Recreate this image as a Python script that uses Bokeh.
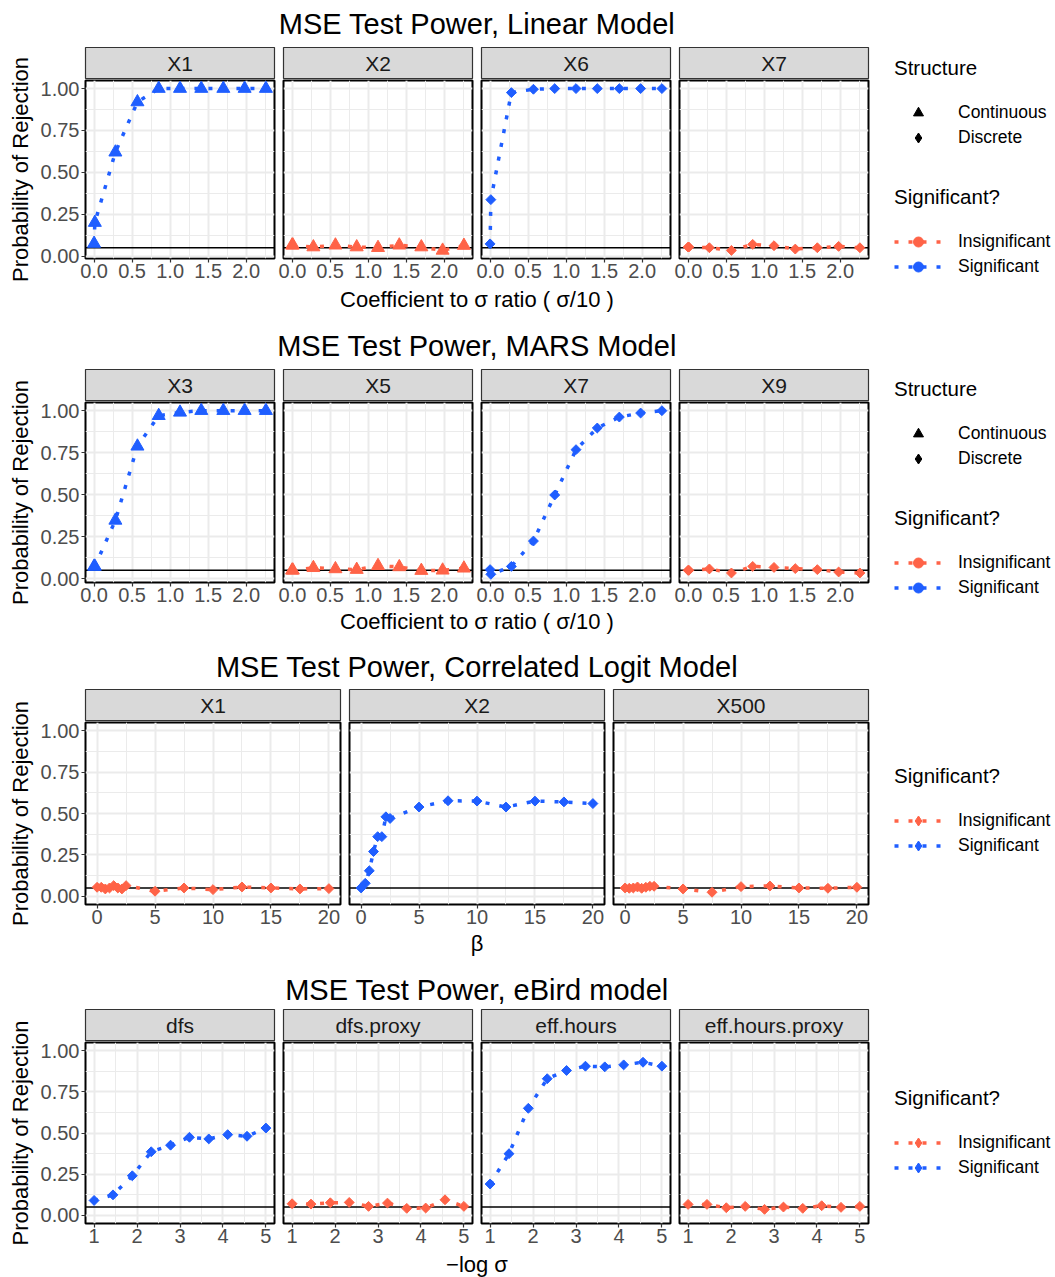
import math
from bokeh.plotting import figure
from bokeh.layouts import row, column
from bokeh.models import Range1d, FixedTicker, Span, Legend, LegendItem
from bokeh.core.properties import value
from bokeh.embed import file_html
from bokeh.resources import INLINE

FONT = "Liberation Sans"
RED = "#FF6347"
BLUE = "#1F5EFF"
GRID = "#EBEBEB"
TICK_COL = "#4D4D4D"

# ---------------- data ----------------
alpha_level = 0.05

linear_vars = ["X1", "X2", "X6", "X7"]
linear_structure = ["Continuous", "Continuous", "Discrete", "Discrete"]
linear_significant = [True, False, True, False]
linear_x = [0.0, 0.01, 0.28, 0.57, 0.85, 1.13, 1.41, 1.70, 1.98, 2.26]
linear_X1 = [0.075, 0.20, 0.62, 0.92, 1.00, 1.00, 1.00, 1.00, 1.00, 1.00]
linear_X2 = [0.065, 0.065, 0.054, 0.065, 0.054, 0.050, 0.065, 0.054, 0.034, 0.063]
linear_X6 = [0.073, 0.337, 0.976, 0.996, 1.00, 1.00, 1.00, 1.00, 1.00, 1.00]
linear_X7 = [0.054, 0.054, 0.050, 0.034, 0.070, 0.062, 0.042, 0.050, 0.058, 0.050]

mars_vars = ["X3", "X5", "X7", "X9"]
mars_structure = ["Continuous", "Continuous", "Discrete", "Discrete"]
mars_significant = [True, False, True, False]
mars_x = [0.0, 0.01, 0.28, 0.57, 0.85, 1.13, 1.41, 1.70, 1.98, 2.26]
mars_X3 = [0.073, 0.073, 0.347, 0.788, 0.970, 0.990, 1.00, 1.00, 1.00, 1.00]
mars_X5 = [0.050, 0.050, 0.065, 0.058, 0.054, 0.077, 0.070, 0.048, 0.050, 0.062]
mars_X7 = [0.054, 0.026, 0.073, 0.224, 0.498, 0.768, 0.897, 0.962, 0.986, 1.00]
mars_X9 = [0.050, 0.050, 0.058, 0.034, 0.073, 0.067, 0.060, 0.054, 0.040, 0.034]

logit_vars = ["X1", "X2", "X500"]
logit_significant = [False, True, False]
logit_x = [0.0, 0.36, 0.71, 1.07, 1.43, 1.79, 2.14, 2.5, 5.0, 7.5, 10.0, 12.5, 15.0, 17.5, 20.0]
logit_X1 = [0.054, 0.054, 0.044, 0.050, 0.064, 0.050, 0.044, 0.064, 0.030, 0.050, 0.040, 0.056, 0.050, 0.044, 0.046]
logit_X2 = [0.050, 0.078, 0.154, 0.270, 0.360, 0.360, 0.480, 0.470, 0.539, 0.577, 0.575, 0.539, 0.575, 0.570, 0.560]
logit_X500 = [0.050, 0.048, 0.050, 0.056, 0.048, 0.054, 0.060, 0.060, 0.044, 0.024, 0.058, 0.062, 0.050, 0.048, 0.054]

ebird_vars = ["dfs", "dfs.proxy", "eff.hours", "eff.hours.proxy"]
ebird_significant = [True, False, True, False]
ebird_x = [1.0, 1.44, 1.89, 2.33, 2.78, 3.22, 3.67, 4.11, 4.56, 5.0]
ebird_dfs = [0.090, 0.124, 0.240, 0.386, 0.426, 0.474, 0.464, 0.490, 0.480, 0.530]
ebird_dfs_proxy = [0.070, 0.068, 0.076, 0.078, 0.054, 0.074, 0.042, 0.044, 0.094, 0.054]
ebird_eff_hours = [0.190, 0.374, 0.650, 0.830, 0.880, 0.906, 0.902, 0.914, 0.930, 0.906]
ebird_eff_hours_proxy = [0.066, 0.066, 0.046, 0.054, 0.036, 0.050, 0.042, 0.058, 0.048, 0.054]

y_ticks = [0.0, 0.25, 0.5, 0.75, 1.0]
y_tick_labels = ["0.00", "0.25", "0.50", "0.75", "1.00"]
y_minor = [0.125, 0.375, 0.625, 0.875]
sigma_ticks = [0.0, 0.5, 1.0, 1.5, 2.0]
sigma_tick_labels = ["0.0", "0.5", "1.0", "1.5", "2.0"]
sigma_minor = [0.25, 0.75, 1.25, 1.75, 2.25]
beta_ticks = [0, 5, 10, 15, 20]
beta_tick_labels = ["0", "5", "10", "15", "20"]
beta_minor = [2.5, 7.5, 12.5, 17.5]
logsig_ticks = [1, 2, 3, 4, 5]
logsig_tick_labels = ["1", "2", "3", "4", "5"]
logsig_minor = [1.5, 2.5, 3.5, 4.5]

sig_labels = ["Insignificant", "Significant"]
structure_labels = ["Continuous", "Discrete"]
y_title = "Probability of Rejection"

# ---------------- layout constants ----------------
YLAB_W = 34
LEFT = 85
GAP_L = 5
GAP_R = 4
TOP = 1
BOTTOM = 28
STRIP_H = 33
BLOCK_W = 872
LEG_W = 1055 - BLOCK_W
TITLE_CX = (LEFT + BLOCK_W - GAP_R) / 2.0


def expand(vals, frac=0.05):
    lo, hi = min(vals), max(vals)
    d = (hi - lo) * frac
    return (lo - d, hi + d)


def text_fig(w, h, cx, cy_from_top, txt, size, angle=0.0):
    p = figure(width=w, height=h, x_range=Range1d(0, w), y_range=Range1d(0, h),
               x_axis_location=None, y_axis_location=None, toolbar_location=None,
               output_backend="svg", min_border=0, outline_line_color=None)
    p.grid.visible = False
    p.text(x=[cx], y=[h - cy_from_top], text=[txt], angle=angle,
           text_font=value(FONT), text_font_size=size, text_align="center",
           text_baseline="middle", text_color="black")
    return p


def strip_fig(w, left, frame_w, h, label):
    p = figure(width=w, height=h, x_range=Range1d(0, 1), y_range=Range1d(0, 1),
               x_axis_location=None, y_axis_location=None, toolbar_location=None,
               output_backend="svg", min_border_left=left,
               min_border_right=w - left - frame_w, min_border_top=1, min_border_bottom=0)
    p.grid.visible = False
    p.background_fill_color = "#D9D9D9"
    p.outline_line_color = "#333333"
    p.outline_line_width = 1.2
    p.text(x=[0.5], y=[0.5], text=[label], text_font=value(FONT), text_font_size="21px",
           text_align="center", text_baseline="middle", text_color="#1A1A1A")
    return p


def panel_fig(w, left, frame_w, frame_h, xr, yr, xs, ys, color, marker, first, spec):
    p = figure(width=w, height=TOP + frame_h + BOTTOM, x_range=Range1d(*xr), y_range=Range1d(*yr),
               toolbar_location=None, output_backend="svg",
               min_border_left=left, min_border_right=w - left - frame_w,
               min_border_top=TOP, min_border_bottom=BOTTOM,
               y_axis_location="left" if first else None)
    p.background_fill_color = "white"
    p.border_fill_color = "white"
    p.outline_line_color = "black"
    p.outline_line_width = 2
    p.xgrid.ticker = FixedTicker(ticks=spec["xticks"], minor_ticks=spec["xminor"])
    p.ygrid.ticker = FixedTicker(ticks=y_ticks, minor_ticks=y_minor)
    for g in list(p.xgrid) + list(p.ygrid):
        g.grid_line_color = GRID
        g.grid_line_width = 2
        g.minor_grid_line_color = GRID
        g.minor_grid_line_width = 1
    axes = [p.xaxis[0]]
    xa = p.xaxis[0]
    xa.ticker = FixedTicker(ticks=spec["xticks"])
    xa.major_label_overrides = {t: l for t, l in zip(spec["xticks"], spec["xlabels"])}
    xa.major_label_standoff = 1
    if first:
        ya = p.yaxis[0]
        ya.ticker = FixedTicker(ticks=y_ticks)
        ya.major_label_overrides = {t: l for t, l in zip(y_ticks, y_tick_labels)}
        ya.major_label_standoff = 2
        axes.append(ya)
    for a in axes:
        a.axis_line_color = None
        a.major_tick_line_color = "#333333"
        a.major_tick_line_width = 1.2
        a.major_tick_out = 4
        a.major_tick_in = 0
        a.minor_tick_line_color = None
        a.major_label_text_font = FONT
        a.major_label_text_font_size = "20px"
        a.major_label_text_color = TICK_COL
    p.add_layout(Span(location=alpha_level, dimension="width", line_color="black",
                      line_width=1.4, level="underlay"))
    p.line(xs, ys, line_color=color, line_width=3.5, line_dash="4 10")
    if marker == "Continuous":
        p.scatter(xs, ys, marker="triangle", size=13, color=color)
    else:
        p.scatter(xs, ys, marker="square", angle=math.pi / 4, size=7, color=color)
    return p


def legend_fig(h, show_structure, sig_marker, pos):
    p = figure(width=LEG_W, height=h, x_range=Range1d(0, 1), y_range=Range1d(0, 1),
               x_axis_location=None, y_axis_location=None, toolbar_location=None,
               output_backend="svg", min_border=0, outline_line_color=None)
    p.grid.visible = False
    common = dict(orientation="vertical", title_text_font=FONT, title_text_font_size="20.5px",
                  title_text_font_style="normal", title_text_color="black", title_standoff=20,
                  label_text_font=FONT, label_text_font_size="17.5px", label_text_color="black",
                  glyph_width=48, glyph_height=25, label_height=25, label_standoff=16, spacing=0,
                  padding=0, margin=0, border_line_alpha=0, background_fill_alpha=0)
    off = [-10.0]
    if show_structure:
        r_tri = p.scatter(off, off, marker="triangle", color="black")
        r_dia = p.scatter(off, off, marker="diamond", color="black")
        leg1 = Legend(title="Structure", items=[LegendItem(label=structure_labels[0], renderers=[r_tri]),
                                                LegendItem(label=structure_labels[1], renderers=[r_dia])],
                      location=(22, pos[0]), **common)
        p.add_layout(leg1)
    items = []
    for lab, col in zip(sig_labels, [RED, BLUE]):
        rl = p.line(off + [-11.0], off + [-11.0], line_color=col, line_width=3.5, line_dash="4 10")
        rs = p.scatter(off, off, marker=sig_marker, color=col)
        items.append(LegendItem(label=lab, renderers=[rl, rs]))
    leg2 = Legend(title="Significant?", items=items, location=(22, pos[1]), **common)
    p.add_layout(leg2)
    return p


rows_spec = [
    dict(title="MSE Test Power, Linear Model", xtitle="Coefficient to \u03c3 ratio ( \u03c3/10 )",
         x=linear_x, series=[linear_X1, linear_X2, linear_X6, linear_X7], names=linear_vars,
         structure=linear_structure, significant=linear_significant,
         xticks=sigma_ticks, xlabels=sigma_tick_labels, xminor=sigma_minor,
         show_structure=True, sig_marker="circle", fixed_y=None,
         title_h=46, title_c=23, frame_h=178, xtitle_h=35, xtitle_c=13, leg_pos=(171, 42)),
    dict(title="MSE Test Power, MARS Model", xtitle="Coefficient to \u03c3 ratio ( \u03c3/10 )",
         x=mars_x, series=[mars_X3, mars_X5, mars_X7, mars_X9], names=mars_vars,
         structure=mars_structure, significant=mars_significant,
         xticks=sigma_ticks, xlabels=sigma_tick_labels, xminor=sigma_minor,
         show_structure=True, sig_marker="circle", fixed_y=None,
         title_h=47, title_c=24, frame_h=180, xtitle_h=32, xtitle_c=11, leg_pos=(171, 42)),
    dict(title="MSE Test Power, Correlated Logit Model", xtitle="\u03b2",
         x=logit_x, series=[logit_X1, logit_X2, logit_X500], names=logit_vars,
         structure=["Discrete"] * 3, significant=logit_significant,
         xticks=beta_ticks, xlabels=beta_tick_labels, xminor=beta_minor,
         show_structure=False, sig_marker="diamond", fixed_y=(0.0, 1.0),
         title_h=46, title_c=24, frame_h=182, xtitle_h=32, xtitle_c=11, leg_pos=(None, 106.5)),
    dict(title="MSE Test Power, eBird model", xtitle="\u2212log \u03c3",
         x=ebird_x, series=[ebird_dfs, ebird_dfs_proxy, ebird_eff_hours, ebird_eff_hours_proxy],
         names=ebird_vars, structure=["Discrete"] * 4, significant=ebird_significant,
         xticks=logsig_ticks, xlabels=logsig_tick_labels, xminor=logsig_minor,
         show_structure=False, sig_marker="diamond", fixed_y=(0.0, 1.0),
         title_h=44, title_c=25, frame_h=181, xtitle_h=26, xtitle_c=13, leg_pos=(None, 97.5)),
]

blocks = []
for spec in rows_spec:
    n = len(spec["series"])
    inner_total = BLOCK_W - LEFT - GAP_R - (n - 1) * (GAP_L + GAP_R)
    frame_w = inner_total // n
    xr = expand(spec["x"])
    if spec["fixed_y"] is None:
        allv = [v for s in spec["series"] for v in s]
        yr = expand(allv)
    else:
        yr = expand(list(spec["fixed_y"]))
    panel_h = TOP + spec["frame_h"] + BOTTOM
    ylab = text_fig(YLAB_W, STRIP_H + panel_h, 20, STRIP_H + TOP + spec["frame_h"] / 2.0,
                    y_title, "22px", angle=math.pi / 2)
    cols = [ylab]
    for i in range(n):
        left = (LEFT - YLAB_W) if i == 0 else GAP_L
        w = left + frame_w + GAP_R
        color = BLUE if spec["significant"][i] else RED
        st = strip_fig(w, left, frame_w, STRIP_H, spec["names"][i])
        pf = panel_fig(w, left, frame_w, spec["frame_h"], xr, yr, spec["x"], spec["series"][i],
                       color, spec["structure"][i], i == 0, spec)
        cols.append(column(st, pf, spacing=0))
    title_f = text_fig(BLOCK_W, spec["title_h"], TITLE_CX, spec["title_c"], spec["title"], "29px")
    xt_f = text_fig(BLOCK_W, spec["xtitle_h"], TITLE_CX, spec["xtitle_c"], spec["xtitle"], "22px")
    panels_row = row(*cols, spacing=0)
    block = column(title_f, panels_row, xt_f, spacing=0)
    total_h = spec["title_h"] + STRIP_H + panel_h + spec["xtitle_h"]
    leg = legend_fig(total_h, spec["show_structure"], spec["sig_marker"], spec["leg_pos"])
    blocks.append(row(block, leg, spacing=0))

layout = column(*blocks, spacing=0)

with open("out.html", "w") as f:
    f.write(file_html(layout, INLINE))
